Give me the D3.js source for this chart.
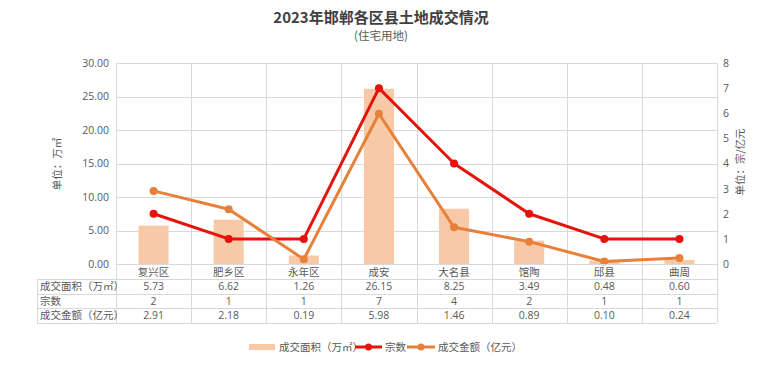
<!DOCTYPE html>
<html><head><meta charset="utf-8">
<script src="https://cdn.jsdelivr.net/npm/d3@7"></script>
<style>body{margin:0;background:#fff;}svg{display:block;font-family:"Noto Sans CJK SC","Noto Sans",sans-serif;}</style>
</head><body><svg id="c" width="762" height="366"></svg>
<script>
const categories = ["复兴区","肥乡区","永年区","成安","大名县","馆陶","邱县","曲周"];
const area = [5.73,6.62,1.26,26.15,8.25,3.49,0.48,0.60];
const counts = [2,1,1,7,4,2,1,1];
const amount = [2.91,2.18,0.19,5.98,1.46,0.89,0.10,0.24];
const areaLabels = ["5.73","6.62","1.26","26.15","8.25","3.49","0.48","0.60"];
const countLabels = ["2","1","1","7","4","2","1","1"];
const amountLabels = ["2.91","2.18","0.19","5.98","1.46","0.89","0.10","0.24"];
const leftTicks = [0,5,10,15,20,25,30];
const rightTicks = [0,1,2,3,4,5,6,7,8];
const rowNames = ["成交面积（万㎡）","宗数","成交金额（亿元）"];
const seriesNames = ["成交面积（万㎡）","宗数","成交金额（亿元）"];

const svg = d3.select("#c");
const L=116, R=717, T=63, B=264;
const gridC="#d9d9d9", txt="#595959";
const barC="#f8c9a6", redC="#e8120c", orC="#e8803a";

const x = d3.scaleBand().domain(categories).range([L,R]);
const yL = d3.scaleLinear().domain([0,30]).range([B,T]);
const yR = d3.scaleLinear().domain([0,8]).range([B,T]);

// title
svg.append("text").attr("x",381).attr("y",23).attr("text-anchor","middle")
  .attr("font-size",15).attr("font-weight","bold").attr("fill","#404040").text("2023年邯郸各区县土地成交情况");
svg.append("text").attr("x",381).attr("y",40).attr("text-anchor","middle")
  .attr("font-size",11.5).attr("fill",txt).text("(住宅用地)");

// grid
svg.append("g").selectAll("line").data(leftTicks).join("line")
  .attr("x1",L).attr("x2",R).attr("y1",d=>Math.round(yL(d))+0.5).attr("y2",d=>Math.round(yL(d))+0.5)
  .attr("stroke",gridC);
svg.append("g").selectAll("line").data(d3.range(categories.length+1)).join("line")
  .attr("x1",i=>Math.round(L+i*x.bandwidth())+0.5).attr("x2",i=>Math.round(L+i*x.bandwidth())+0.5)
  .attr("y1",T).attr("y2",B).attr("stroke",gridC);

// left axis labels
const axL = d3.axisLeft(yL).tickValues(leftTicks).tickFormat(d3.format(".2f")).tickSize(0).tickPadding(7);
const gL = svg.append("g").attr("transform",`translate(${L},0)`).call(axL);
gL.select(".domain").remove();
gL.selectAll("text").attr("font-size",10.5).attr("fill",txt).attr("font-family","'Open Sans','Noto Sans',sans-serif");

const axR = d3.axisRight(yR).tickValues(rightTicks).tickFormat(d3.format("d")).tickSize(0).tickPadding(6);
const gR = svg.append("g").attr("transform",`translate(${R},0)`).call(axR);
gR.select(".domain").remove();
gR.selectAll("text").attr("font-size",10.5).attr("fill",txt).attr("font-family","'Open Sans','Noto Sans',sans-serif");

svg.append("text").attr("transform",`translate(61,164) rotate(-90)`).attr("text-anchor","middle")
  .attr("font-size",10.5).attr("fill",txt).text("单位：万㎡");
svg.append("text").attr("transform",`translate(744,162) rotate(-90)`).attr("text-anchor","middle")
  .attr("font-size",10.5).attr("fill",txt).text("单位：宗/亿元");

// bars
const bw = x.bandwidth()*0.4;
svg.append("g").selectAll("rect").data(area).join("rect")
  .attr("x",(d,i)=>x(categories[i])+x.bandwidth()/2-bw/2).attr("width",bw)
  .attr("y",d=>yL(d)).attr("height",d=>B-yL(d)).attr("fill",barC);

// lines
function drawLine(vals,color){
  const line = d3.line().x((d,i)=>x(categories[i])+x.bandwidth()/2).y(d=>yR(d));
  svg.append("path").datum(vals).attr("d",line).attr("fill","none").attr("stroke",color).attr("stroke-width",3).attr("stroke-linejoin","round");
  svg.append("g").selectAll("circle").data(vals).join("circle")
    .attr("cx",(d,i)=>x(categories[i])+x.bandwidth()/2).attr("cy",d=>yR(d)).attr("r",4).attr("fill",color);
}
drawLine(counts,redC);
drawLine(amount,orC);

// data table
const TL=37;
const rowsY=[264,279,293.5,308,322.5];
const tg = svg.append("g");
rowsY.forEach((y,i)=>{
  tg.append("line").attr("x1", i===0?L:TL).attr("x2",R).attr("y1",Math.round(y)+0.5).attr("y2",Math.round(y)+0.5).attr("stroke",gridC);
});
tg.append("line").attr("x1",TL+0.5).attr("x2",TL+0.5).attr("y1",279).attr("y2",323).attr("stroke",gridC);
d3.range(categories.length+1).forEach(i=>{
  const xx=Math.round(L+i*x.bandwidth())+0.5;
  tg.append("line").attr("x1",xx).attr("x2",xx).attr("y1",B).attr("y2",323).attr("stroke",gridC);
});
// category labels
tg.selectAll("text.cat").data(categories).join("text").attr("class","cat")
  .attr("x",d=>x(d)+x.bandwidth()/2).attr("y",275.5).attr("text-anchor","middle")
  .attr("font-size",10.5).attr("fill",txt).text(d=>d);
const tableRows=[areaLabels,countLabels,amountLabels];
tableRows.forEach((row,r)=>{
  const cy=(rowsY[r+1]+rowsY[r+2])/2+4;
  tg.append("text").attr("x",TL+3).attr("y",cy).attr("font-size",10.5).attr("fill",txt).text(rowNames[r]);
  row.forEach((v,i)=>{
    tg.append("text").attr("x",x(categories[i])+x.bandwidth()/2).attr("y",cy).attr("text-anchor","middle")
      .attr("font-size",10.5).attr("fill",txt).attr("font-family","'Open Sans','Noto Sans',sans-serif").text(v);
  });
});

// legend
const lg = svg.append("g").attr("font-size",10.5).attr("fill",txt);
lg.append("rect").attr("x",249).attr("y",344).attr("width",26).attr("height",6).attr("fill",barC);
lg.append("text").attr("x",279).attr("y",351).attr("fill",txt).text(seriesNames[0]);
lg.append("line").attr("x1",355).attr("x2",382).attr("y1",347).attr("y2",347).attr("stroke",redC).attr("stroke-width",3);
lg.append("circle").attr("cx",368.5).attr("cy",347).attr("r",3.5).attr("fill",redC);
lg.append("text").attr("x",385).attr("y",351).attr("fill",txt).text(seriesNames[1]);
lg.append("line").attr("x1",407).attr("x2",435).attr("y1",347).attr("y2",347).attr("stroke",orC).attr("stroke-width",3);
lg.append("circle").attr("cx",421).attr("cy",347).attr("r",3.5).attr("fill",orC);
lg.append("text").attr("x",438).attr("y",351).attr("fill",txt).text(seriesNames[2]);
</script></body></html>
